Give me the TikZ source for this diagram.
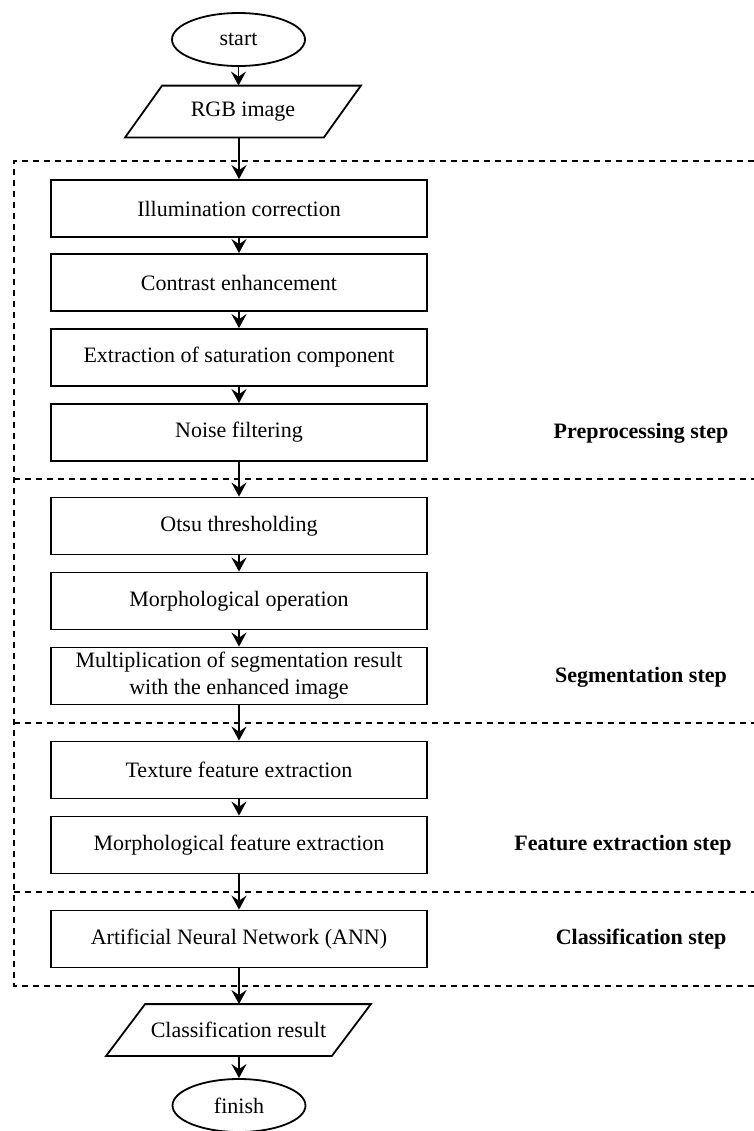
\documentclass[tikz,border=0pt]{standalone}
\usepackage{fontspec}
\setmainfont{Liberation Serif}
\usetikzlibrary{shapes.geometric,arrows.meta}
\begin{document}
\begin{tikzpicture}[x=0.5pt,y=-0.5pt,
  every node/.style={font=\fontsize{11}{13.5}\selectfont, inner sep=0pt},
  procbox/.style={draw, line width=0.9pt, minimum width=188pt, minimum height=28.5pt, align=center},
  term/.style={draw, ellipse, line width=0.9pt, minimum width=66.5pt, minimum height=26.5pt},
  iobase/.style={minimum height=25.5pt, align=center},
  ioline/.style={line width=0.9pt, line join=miter},
  flow/.style={line width=0.9pt, -{Stealth[length=7pt,width=7.5pt,inset=2.5pt]}},
  region/.style={line width=0.8pt, dash pattern=on 3pt off 2.5pt},
  steplabel/.style={font=\bfseries\fontsize{11}{13.5}\selectfont}]
\useasboundingbox (0,0) rectangle (754,1131);

% dashed regions
\draw[region] (754,161) -- (14,161) -- (14,986) -- (754,986);
\draw[region] (14,479) -- (754,479);
\draw[region] (14,723) -- (754,723);
\draw[region] (14,892) -- (754,892);

% terminals and IO
\node[term] (start) at (238.5,39.5) {start};
\node[iobase, minimum width=99pt] (rgb) at (243,111.5) {RGB image};
\draw[ioline] ([xshift=9.25pt]rgb.north west) -- ([xshift=9.25pt]rgb.north east) -- ([xshift=-9.25pt]rgb.south east) -- ([xshift=-9.25pt]rgb.south west) -- cycle;

% process boxes
\node[procbox] (b1) at (239,208.5) {Illumination correction};
\node[procbox] (b2) at (239,282.5) {Contrast enhancement};
\node[procbox] (b3) at (239,357.5) {Extraction of saturation component};
\node[procbox] (b4) at (239,432.5) {Noise filtering};
\node[procbox] (b5) at (239,526) {Otsu thresholding};
\node[procbox] (b6) at (239,601) {Morphological operation};
\node[procbox] (b7) at (239,676) {Multiplication of segmentation result\\with the enhanced image};
\node[procbox] (b8) at (239,770) {Texture feature extraction};
\node[procbox] (b9) at (239,845) {Morphological feature extraction};
\node[procbox] (b10) at (239,939) {Artificial Neural Network (ANN)};

\node[iobase, minimum width=112.5pt] (res) at (238.5,1030) {Classification result};
\draw[ioline] ([xshift=9.75pt]res.north west) -- ([xshift=9.75pt]res.north east) -- ([xshift=-9.75pt]res.south east) -- ([xshift=-9.75pt]res.south west) -- cycle;
\node[term] (finish) at (239,1105.5) {finish};

% step labels
\node[steplabel] (lpre) at (641,433) {Preprocessing step};
\node[steplabel] (lseg) at (641,677) {Segmentation step};
\node[steplabel] (lfeat) at (623,845) {Feature extraction step};
\node[steplabel] (lcls) at (641,939) {Classification step};

% connectors
\draw[flow] (start.south) -- (rgb.north -| start.south);
\draw[flow] (rgb.south -| b1.north) -- (b1.north);
\draw[flow] (b1) -- (b2);
\draw[flow] (b2) -- (b3);
\draw[flow] (b3) -- (b4);
\draw[flow] (b4) -- (b5);
\draw[flow] (b5) -- (b6);
\draw[flow] (b6) -- (b7);
\draw[flow] (b7) -- (b8);
\draw[flow] (b8) -- (b9);
\draw[flow] (b9) -- (b10);
\draw[flow] (b10.south) -- (res.north -| b10.south);
\draw[flow] (res.south -| finish.north) -- (finish.north);
\end{tikzpicture}
\end{document}
